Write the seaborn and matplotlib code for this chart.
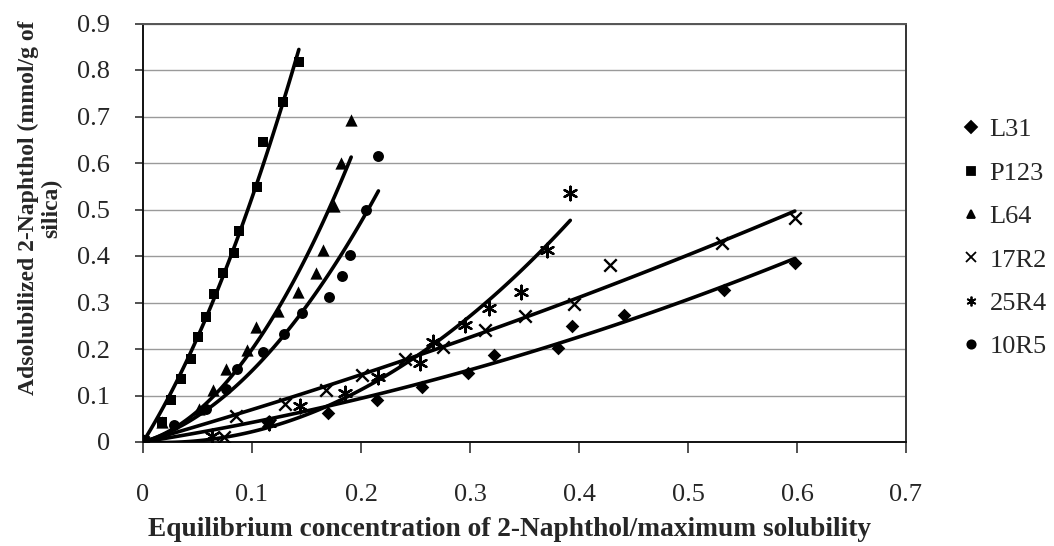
import matplotlib
matplotlib.use("Agg")
import matplotlib.pyplot as plt
from matplotlib.lines import Line2D
import seaborn as sns
import pandas as pd
import numpy as np

# ---- data ----
series_names = ["L31", "P123", "L64", "17R2", "25R4", "10R5"]

l31_x = [0, 0.115, 0.170, 0.215, 0.256, 0.298, 0.322, 0.381, 0.394, 0.441, 0.533, 0.598]
l31_y = [0, 0.042, 0.062, 0.090, 0.119, 0.149, 0.187, 0.202, 0.249, 0.273, 0.327, 0.386]

p123_x = [0, 0.017, 0.026, 0.035, 0.044, 0.050, 0.058, 0.065, 0.073, 0.0835, 0.088, 0.105, 0.110, 0.128, 0.143]
p123_y = [0, 0.044, 0.090, 0.135, 0.178, 0.226, 0.269, 0.318, 0.363, 0.406, 0.454, 0.548, 0.645, 0.731, 0.817]

l64_x = [0, 0.017, 0.051, 0.0645, 0.076, 0.095, 0.104, 0.124, 0.142, 0.159, 0.165, 0.175, 0.182, 0.191]
l64_y = [0, 0.044, 0.072, 0.112, 0.158, 0.198, 0.248, 0.282, 0.323, 0.364, 0.413, 0.508, 0.601, 0.692]

r17_x = [0, 0.074, 0.085, 0.130, 0.168, 0.201, 0.240, 0.275, 0.314, 0.350, 0.395, 0.428, 0.531, 0.598]
r17_y = [0, 0.010, 0.056, 0.082, 0.111, 0.144, 0.178, 0.205, 0.241, 0.270, 0.297, 0.381, 0.427, 0.481]

r25_x = [0, 0.063, 0.116, 0.144, 0.185, 0.216, 0.254, 0.266, 0.295, 0.317, 0.3465, 0.371, 0.392]
r25_y = [0, 0.012, 0.040, 0.078, 0.105, 0.140, 0.169, 0.216, 0.252, 0.289, 0.323, 0.412, 0.535]

r10_x = [0, 0.028, 0.058, 0.076, 0.0865, 0.110, 0.129, 0.1456, 0.171, 0.183, 0.190, 0.205, 0.216]
r10_y = [0, 0.037, 0.072, 0.113, 0.158, 0.194, 0.232, 0.278, 0.3125, 0.358, 0.402, 0.499, 0.614]

x_ticks = [0, 0.1, 0.2, 0.3, 0.4, 0.5, 0.6, 0.7]
x_tick_labels = ["0", "0.1", "0.2", "0.3", "0.4", "0.5", "0.6", "0.7"]
y_ticks = [0, 0.1, 0.2, 0.3, 0.4, 0.5, 0.6, 0.7, 0.8, 0.9]
y_tick_labels = ["0", "0.1", "0.2", "0.3", "0.4", "0.5", "0.6", "0.7", "0.8", "0.9"]

xs = [l31_x, p123_x, l64_x, r17_x, r25_x, r10_x]
ys = [l31_y, p123_y, l64_y, r17_y, r25_y, r10_y]
frames = []
for name, xv, yv in zip(series_names, xs, ys):
    frames.append(pd.DataFrame({"x": xv, "y": yv, "series": name}))
df = pd.concat(frames, ignore_index=True)

# polynomial (order 2) trendlines through the origin, fitted to each series
fit_frames = []
for name in series_names:
    sub = df[df["series"] == name]
    xv = sub["x"].to_numpy()
    yv = sub["y"].to_numpy()
    A = np.column_stack([xv, xv ** 2])
    coef, *_ = np.linalg.lstsq(A, yv, rcond=None)
    xf = np.linspace(0, xv.max(), 120)
    fit_frames.append(pd.DataFrame({"x": xf, "y": coef[0] * xf + coef[1] * xf ** 2, "series": name}))
fit_df = pd.concat(fit_frames, ignore_index=True)

markers = {"L31": "D", "P123": "s", "L64": "^", "17R2": "x", "25R4": (6, 2, 0), "10R5": "o"}
msizes = {"L31": 48, "P123": 62, "L64": 78, "17R2": 80, "25R4": 95, "10R5": 62}

sns.set_theme(style="white")
plt.rcParams["font.family"] = ["Liberation Serif", "DejaVu Serif"]

fig = plt.figure(figsize=(10.54, 5.46), dpi=100)
ax = fig.add_axes([143 / 1054, 1 - 442 / 546, (906 - 143) / 1054, (442 - 23.5) / 546])

sns.lineplot(data=fit_df, x="x", y="y", units="series", estimator=None, color="black",
             lw=2.6, ax=ax, zorder=4, legend=False, sort=False)

for name in series_names:
    sub = df[df["series"] == name]
    sns.scatterplot(data=sub, x="x", y="y", marker=markers[name], s=msizes[name], color="black",
                    edgecolor="black", linewidth=1.7 if name in ("17R2", "25R4") else 0,
                    ax=ax, zorder=3, legend=False)

ax.set_xlim(0, 0.7)
ax.set_ylim(0, 0.9)
ax.set_xticks(x_ticks)
ax.set_xticklabels(x_tick_labels)
ax.set_yticks(y_ticks)
ax.set_yticklabels(y_tick_labels)
ax.set_xlabel("")
ax.set_ylabel("")
ax.grid(axis="y", color="#9a9a9a", lw=1.0)
ax.grid(axis="x", visible=False)
ax.set_axisbelow(True)
for s in ax.spines.values():
    s.set_color("#111111")
    s.set_linewidth(1.4)
ax.spines["top"].set_color("#555555")
ax.spines["right"].set_color("#333333")
ax.tick_params(axis="x", direction="out", length=8, width=1.2, color="#333333",
               pad=22, labelsize=19, bottom=True)
ax.tick_params(axis="y", direction="out", length=6, width=1.2, color="#333333",
               pad=18, labelsize=19, left=True)

fig.text(40 / 1054, 1 - 208 / 546, "Adsolubilized 2-Naphthol (mmol/g of\nsilica)",
         rotation=90, ha="center", va="center", multialignment="center",
         fontsize=17, fontweight="bold", linespacing=1.15)
fig.text(509 / 1054, 1 - 530 / 546, "Equilibrium concentration of 2-Naphthol/maximum solubility",
         ha="center", va="center", fontsize=19.7, fontweight="bold")

handles = []
for name in series_names:
    handles.append(Line2D([], [], linestyle="none", marker=markers[name], color="black",
                          markersize=6 if name not in ("17R2", "25R4") else 7,
                          markeredgewidth=1.3))
fig.legend(handles, series_names, loc="upper left", bbox_to_anchor=(958 / 1054, 1 - 118 / 546),
           frameon=False, fontsize=19, labelspacing=0.755, handletextpad=0.2, handlelength=1.0,
           borderaxespad=0, borderpad=0)

fig.savefig("out.png", dpi=100)
